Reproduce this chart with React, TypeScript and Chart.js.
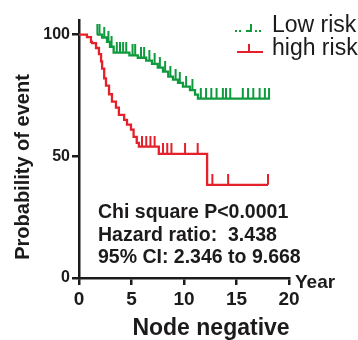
import React, { useEffect, useRef } from "react";
import { Chart, registerables } from "chart.js";

Chart.register(...registerables);

// ---------- data ----------
const xTicks = [0, 5, 10, 15, 20];
const yTicks = [0, 50, 100];

const lowRiskTimes = [1.7, 2.2, 2.67, 2.95, 3.3, 4.8, 5.6, 6.4, 6.95, 7.5, 8.0, 8.5, 8.95, 9.43, 9.9, 10.57, 11.05, 11.33, 18.2];
const lowRiskValues = [100, 98.8, 97, 95, 92.6, 91.5, 90.5, 89.3, 88, 86.4, 84.8, 82.7, 81.5, 80.2, 78.6, 77.2, 75.3, 73.7, 73.7];
const lowRiskCensorTimes = [1.75, 1.95, 2.4, 2.8, 3.1, 3.6, 3.9, 4.2, 4.5, 5.1, 5.35, 5.9, 6.2, 6.7, 7.2, 7.7, 8.2, 8.7, 9.2, 9.6, 10.2, 10.8, 11.6, 12.1, 12.6, 13.1, 13.7, 14.0, 14.4, 15.6, 16.1, 16.6, 17.2, 17.7, 18.1];

const highRiskTimes = [0, 0.76, 1.14, 1.24, 1.62, 1.9, 2.1, 2.2, 2.4, 2.57, 2.86, 3.14, 3.52, 3.8, 4.3, 4.57, 4.95, 5.2, 5.5, 5.7, 7.6, 12.2, 18];
const highRiskValues = [100, 99, 97, 96.5, 94.5, 92, 89, 86, 82, 79, 75.5, 72.5, 70, 67, 65, 63, 61, 58, 55.5, 54, 51, 38.3, 38.3];
const highRiskCensorTimes = [6.0, 6.4, 6.8, 7.2, 8.0, 8.4, 8.8, 10.1, 11.3, 12.7, 14.2, 18];

const legendLabels = ["Low risk", "high risk"];
const statsLines = ["Chi square P<0.0001", "Hazard ratio:  3.438", "95% CI: 2.346 to 9.668"];
const xTitle = "Node negative";
const yTitle = "Probability of event";
const xUnit = "Year";

// ---------- style ----------
const GREEN = "#0f9a3e";
const RED = "#e5202b";
const INK = "#1c1a1b";
const FONT = "'Liberation Sans', Arial, Helvetica, sans-serif";

function valueAt(times: number[], values: number[], t: number) {
  let v = values[0];
  for (let i = 0; i < times.length; i++) if (times[i] <= t) v = values[i];
  return v;
}

function makeTick(color: string) {
  const c = document.createElement("canvas");
  c.width = 4;
  c.height = 22;
  const g = c.getContext("2d")!;
  g.strokeStyle = color;
  g.lineWidth = 2;
  g.beginPath();
  g.moveTo(2, 0);
  g.lineTo(2, 11);
  g.stroke();
  return c;
}

const textPlugin = {
  id: "textPlugin",
  afterDraw(chart: any) {
    const ctx = chart.ctx as CanvasRenderingContext2D;
    ctx.save();
    // legend symbols
    ctx.fillStyle = GREEN;
    [236, 240, 256, 260].forEach((x) => ctx.fillRect(x - 1, 30, 2, 2));
    ctx.strokeStyle = GREEN;
    ctx.lineWidth = 2;
    ctx.beginPath();
    ctx.moveTo(246, 31);
    ctx.lineTo(251, 31);
    ctx.lineTo(251, 24);
    ctx.stroke();
    ctx.strokeStyle = RED;
    ctx.beginPath();
    ctx.moveTo(237, 52);
    ctx.lineTo(263, 52);
    ctx.moveTo(249, 52);
    ctx.lineTo(249, 44);
    ctx.stroke();

    ctx.fillStyle = INK;
    ctx.textBaseline = "alphabetic";
    ctx.textAlign = "left";
    ctx.font = `23px ${FONT}`;
    ctx.fillText(legendLabels[0], 272, 32);
    ctx.fillText(legendLabels[1], 272, 55);

    ctx.font = `bold 19.5px ${FONT}`;
    statsLines.forEach((s, i) => ctx.fillText(s, 98, 218 + i * 22.5));

    ctx.font = `bold 19px ${FONT}`;
    ctx.fillText(xUnit, 295, 288);

    ctx.font = `bold 23px ${FONT}`;
    ctx.textAlign = "center";
    ctx.fillText(xTitle, 211, 335);

    ctx.save();
    ctx.translate(23, 167);
    ctx.rotate(-Math.PI / 2);
    ctx.font = `bold 20px ${FONT}`;
    ctx.textBaseline = "middle";
    ctx.fillText(yTitle, 0, 0);
    ctx.restore();
    ctx.restore();
  },
};

export default function App() {
  const ref = useRef<HTMLCanvasElement>(null);
  useEffect(() => {
    const greenTick = makeTick(GREEN);
    const redTick = makeTick(RED);
    const chart = new Chart(ref.current!, {
      type: "line",
      data: {
        datasets: [
          {
            data: highRiskTimes.map((t, i) => ({ x: t, y: highRiskValues[i] })),
            stepped: true,
            borderColor: RED,
            borderWidth: 2.3,
            pointRadius: 0,
            fill: false,
          },
          {
            data: highRiskCensorTimes.map((t) => ({ x: t, y: valueAt(highRiskTimes, highRiskValues, t) })),
            showLine: false,
            pointStyle: redTick as any,
            pointRadius: 5,
          },
          {
            data: lowRiskTimes.map((t, i) => ({ x: t, y: lowRiskValues[i] })),
            stepped: true,
            borderColor: GREEN,
            borderWidth: 2.3,
            pointRadius: 0,
            fill: false,
          },
          {
            data: lowRiskCensorTimes.map((t) => ({ x: t, y: valueAt(lowRiskTimes, lowRiskValues, t) })),
            showLine: false,
            pointStyle: greenTick as any,
            pointRadius: 5,
          },
        ] as any,
      },
      options: {
        animation: false,
        responsive: true,
        maintainAspectRatio: false,
        layout: { padding: { top: 20, right: 69, left: 0, bottom: 0 } },
        plugins: { legend: { display: false }, tooltip: { enabled: false } },
        scales: {
          x: {
            type: "linear",
            min: 0,
            max: 20,
            afterBuildTicks: (s: any) => {
              s.ticks = xTicks.map((v) => ({ value: v }));
            },
            afterFit: (s: any) => {
              s.height = 62;
            },
            ticks: { color: INK, font: { family: FONT, size: 19, weight: "bold" }, padding: 3, maxRotation: 0, autoSkip: false },
            grid: { display: true, drawOnChartArea: false, drawTicks: true, tickLength: 7, lineWidth: 2.5, color: INK },
            border: { display: true, width: 2.5, color: INK },
          },
          y: {
            type: "linear",
            min: 0,
            max: 106,
            afterBuildTicks: (s: any) => {
              s.ticks = yTicks.map((v) => ({ value: v }));
            },
            afterFit: (s: any) => {
              s.width = 79;
            },
            ticks: { color: INK, font: { family: FONT, size: 16, weight: "bold" }, padding: 2, autoSkip: false },
            grid: { display: true, drawOnChartArea: false, drawTicks: true, tickLength: 7, lineWidth: 2.5, color: INK },
            border: { display: true, width: 2.5, color: INK },
          },
        },
      } as any,
      plugins: [textPlugin],
    });
    return () => chart.destroy();
  }, []);
  return (
    <div style={{ position: "absolute", left: 0, top: 0, width: 358, height: 340, background: "#fff" }}>
      <canvas ref={ref} />
    </div>
  );
}
